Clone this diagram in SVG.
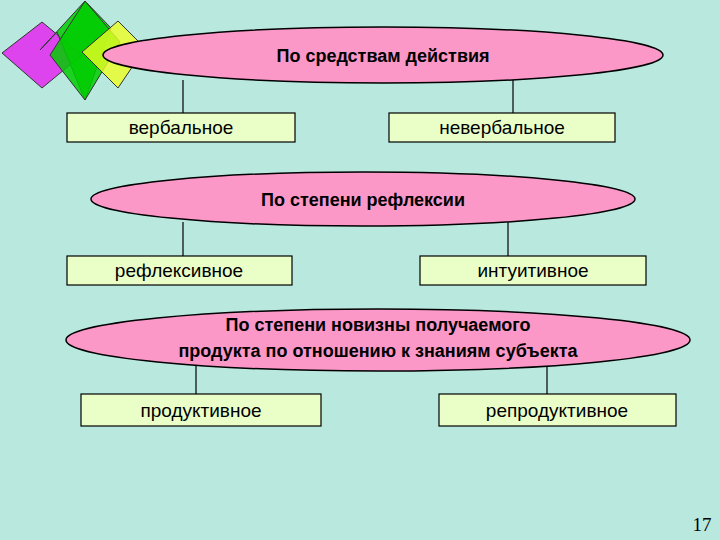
<svg xmlns="http://www.w3.org/2000/svg" width="720" height="540" viewBox="0 0 720 540">
<style>
.e{fill:#fb98c8;stroke:#000;stroke-width:1.5}
.b{fill:#eaffc8;stroke:#000;stroke-width:1.2}
.t{font-family:"Liberation Sans",Arial,sans-serif;font-size:19px;text-anchor:middle;fill:#000}
.h{font-weight:bold;font-size:18px}
.c line{stroke:#000;stroke-width:1.2}
</style>
<rect width="720" height="540" fill="#b9e8df"/>
<g id="deco">
<polygon points="42,22 82,55 42,88 2,53" fill="#dd44ee" stroke="#333" stroke-width="1"/>
<polygon points="85,1 111,28 85,100 57,32 40,50" fill="#00cc00" fill-opacity="0.85" stroke="#333" stroke-width="1"/>
<polygon points="85,1 120,42 85,100 50,55" fill="#00cc00" fill-opacity="0.85" stroke="#333" stroke-width="1"/>
<polygon points="118,21 145,48 118,88 82,52" fill="#eeff22" fill-opacity="0.8" stroke="#333" stroke-width="1"/>
</g>
<g class="c" id="connectors">
<line x1="183" y1="80" x2="183" y2="113"/><line x1="513" y1="80" x2="513" y2="113"/>
<line x1="183" y1="222" x2="183" y2="256"/><line x1="508" y1="222" x2="508" y2="256"/>
<line x1="196" y1="365" x2="196" y2="394"/><line x1="547" y1="365" x2="547" y2="394"/>
</g>
<g id="e1"><ellipse class="e" cx="383" cy="55" rx="280" ry="28"/><text class="t h" x="383" y="62">По средствам действия</text></g>
<g id="n1"><rect class="b" x="67" y="113" width="228" height="29"/><text class="t" x="181" y="134">вербальное</text></g>
<g id="n2"><rect class="b" x="389" y="113" width="226" height="29"/><text class="t" x="502" y="134">невербальное</text></g>
<g id="e2"><ellipse class="e" cx="363" cy="199" rx="272" ry="27"/><text class="t h" x="363" y="206">По степени рефлексии</text></g>
<g id="n3"><rect class="b" x="67" y="256" width="225" height="29"/><text class="t" x="179" y="277">рефлексивное</text></g>
<g id="n4"><rect class="b" x="420" y="256" width="226" height="29"/><text class="t" x="533" y="277">интуитивное</text></g>
<g id="e3"><ellipse class="e" cx="378" cy="340" rx="312" ry="31"/><text class="t h" x="378" y="331">По степени новизны получаемого</text><text class="t h" x="378" y="357">продукта по отношению к знаниям субъекта</text></g>
<g id="n5"><rect class="b" x="81" y="394" width="240" height="32"/><text class="t" x="201" y="417">продуктивное</text></g>
<g id="n6"><rect class="b" x="439" y="394" width="237" height="32"/><text class="t" x="557" y="417">репродуктивное</text></g>
<text x="702" y="531" font-family="Liberation Serif,serif" font-size="19" text-anchor="middle">17</text>
</svg>
